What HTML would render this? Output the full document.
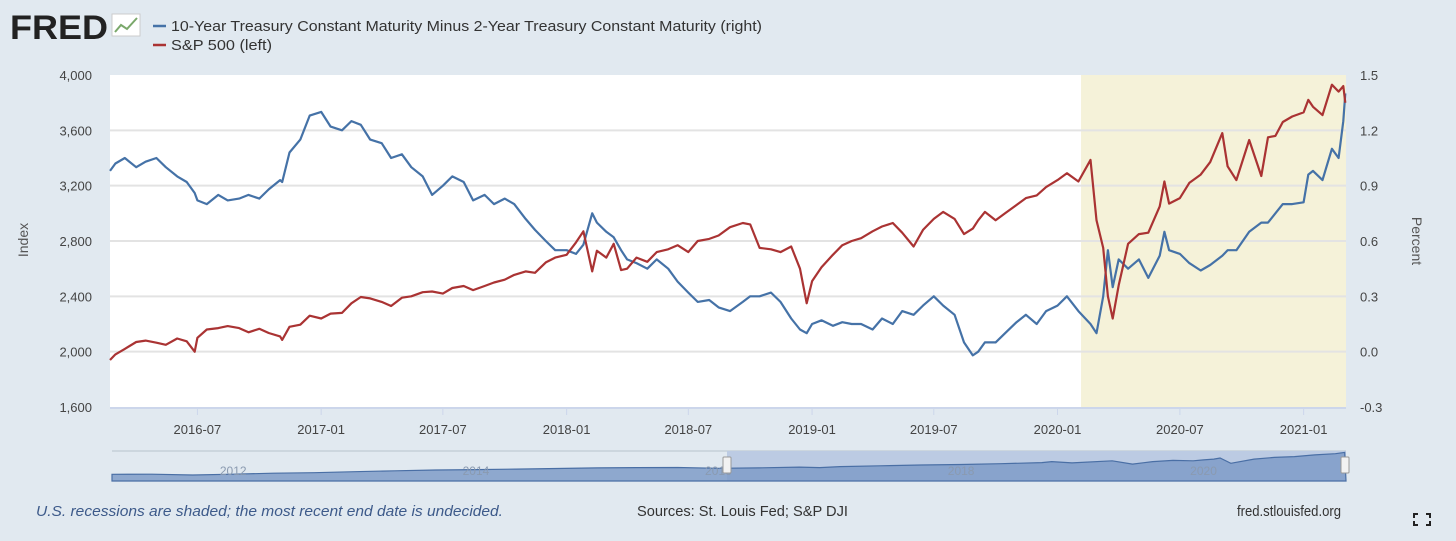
<!DOCTYPE html>
<html><head><meta charset="utf-8"><style>
body{margin:0;background:#e1e9f0;font-family:"Liberation Sans",sans-serif;}
svg{display:block}
text{font-family:"Liberation Sans",sans-serif;}
</style></head><body>
<svg id="c" width="1456" height="541">
<rect width="1456" height="541" fill="#e1e9f0"/>
<g>
<text x="10" y="39" font-size="34" font-weight="bold" fill="#222" textLength="98" lengthAdjust="spacingAndGlyphs">FRED</text>
<rect x="112" y="14" width="28" height="22" fill="#fff" stroke="#ccc"/>
<polyline points="115,32 121,25 127,29 137,18" fill="none" stroke="#7aa86b" stroke-width="2"/>
</g>
<g>
<line x1="153" y1="26" x2="166" y2="26" stroke="#4572a7" stroke-width="2.5"/>
<text x="171" y="31" font-size="14.5" fill="#333" textLength="591" lengthAdjust="spacingAndGlyphs">10-Year Treasury Constant Maturity Minus 2-Year Treasury Constant Maturity (right)</text>
<line x1="153" y1="45" x2="166" y2="45" stroke="#aa3333" stroke-width="2.5"/>
<text x="171" y="50" font-size="14.5" fill="#333" textLength="101" lengthAdjust="spacingAndGlyphs">S&amp;P 500 (left)</text>
</g>
<rect x="110" y="75" width="1236" height="332" fill="#fff"/>
<g id="rec"></g><g id="grid"></g><g id="axes"></g><g id="series"></g><g id="nav"></g>
<text x="28" y="240" font-size="14" fill="#555" transform="rotate(-90 28 240)" text-anchor="middle">Index</text>
<text x="1412" y="241" font-size="14" fill="#555" transform="rotate(90 1412 241)" text-anchor="middle">Percent</text>
<text x="36" y="516" font-size="15" fill="#3d5a8a" font-style="italic" textLength="467" lengthAdjust="spacingAndGlyphs">U.S. recessions are shaded; the most recent end date is undecided.</text>
<text x="637" y="516" font-size="15" fill="#333" textLength="211" lengthAdjust="spacingAndGlyphs">Sources: St. Louis Fed; S&amp;P DJI</text>
<text x="1237" y="516" font-size="15" fill="#333" textLength="104" lengthAdjust="spacingAndGlyphs">fred.stlouisfed.org</text>
<g stroke="#222" stroke-width="2" fill="none">
<polyline points="1414,518 1414,514 1418,514"/><polyline points="1426,514 1430,514 1430,518"/>
<polyline points="1414,521 1414,525 1418,525"/><polyline points="1426,525 1430,525 1430,521"/>
</g>
</svg>
<script>
const dates=["2016-02-22","2016-03-01","2016-03-15","2016-04-01","2016-04-15","2016-05-01","2016-05-15","2016-06-01","2016-06-15","2016-06-27","2016-07-01","2016-07-15","2016-08-01","2016-08-15","2016-09-01","2016-09-15","2016-10-01","2016-10-15","2016-11-01","2016-11-04","2016-11-15","2016-12-01","2016-12-15","2017-01-01","2017-01-15","2017-02-01","2017-02-15","2017-03-01","2017-03-15","2017-04-01","2017-04-15","2017-05-01","2017-05-15","2017-06-01","2017-06-15","2017-07-01","2017-07-15","2017-08-01","2017-08-15","2017-09-01","2017-09-15","2017-10-01","2017-10-15","2017-11-01","2017-11-15","2017-12-01","2017-12-15","2018-01-01","2018-01-15","2018-01-26","2018-02-08","2018-02-15","2018-03-01","2018-03-12","2018-03-23","2018-04-01","2018-04-15","2018-05-01","2018-05-15","2018-06-01","2018-06-15","2018-07-01","2018-07-15","2018-08-01","2018-08-15","2018-09-01","2018-09-20","2018-10-01","2018-10-15","2018-11-01","2018-11-15","2018-12-01","2018-12-14","2018-12-24","2019-01-01","2019-01-15","2019-02-01","2019-02-15","2019-03-01","2019-03-15","2019-04-01","2019-04-15","2019-05-01","2019-05-15","2019-06-01","2019-06-15","2019-07-01","2019-07-15","2019-08-01","2019-08-15","2019-08-28","2019-09-05","2019-09-15","2019-10-01","2019-10-15","2019-11-01","2019-11-15","2019-12-01","2019-12-15","2020-01-01","2020-01-15","2020-02-01","2020-02-19","2020-02-28","2020-03-09","2020-03-16","2020-03-23","2020-04-01","2020-04-15","2020-05-01","2020-05-15","2020-06-01","2020-06-08","2020-06-15","2020-07-01","2020-07-15","2020-08-01","2020-08-15","2020-09-02","2020-09-10","2020-09-23","2020-10-12","2020-10-30","2020-11-09","2020-11-20","2020-12-01","2020-12-15","2021-01-01","2021-01-08","2021-01-15","2021-01-29","2021-02-12","2021-02-22","2021-03-01","2021-03-04"];
const sp500=[1940,1980,2020,2070,2080,2065,2050,2095,2075,2000,2100,2160,2170,2185,2170,2140,2165,2135,2110,2085,2180,2195,2260,2240,2275,2280,2350,2395,2385,2360,2330,2390,2400,2430,2435,2420,2460,2475,2445,2475,2500,2520,2555,2580,2570,2645,2680,2700,2790,2870,2580,2730,2680,2780,2590,2600,2680,2650,2720,2740,2770,2720,2800,2815,2840,2900,2930,2920,2750,2740,2720,2760,2600,2350,2510,2610,2700,2770,2800,2820,2870,2905,2930,2860,2760,2880,2960,3010,2960,2850,2890,2950,3010,2950,3000,3060,3110,3130,3190,3240,3290,3230,3386,2950,2750,2400,2240,2480,2780,2850,2860,3050,3230,3070,3110,3220,3280,3370,3580,3340,3240,3530,3270,3550,3560,3660,3700,3730,3820,3770,3710,3930,3880,3920,3800];
const spread=[0.98,1.02,1.05,1.00,1.03,1.05,1.00,0.95,0.92,0.86,0.82,0.80,0.85,0.82,0.83,0.85,0.83,0.88,0.93,0.92,1.08,1.15,1.28,1.30,1.22,1.20,1.25,1.23,1.15,1.13,1.05,1.07,1.00,0.95,0.85,0.90,0.95,0.92,0.82,0.85,0.80,0.83,0.80,0.72,0.66,0.60,0.55,0.55,0.53,0.58,0.75,0.70,0.65,0.62,0.55,0.50,0.48,0.45,0.50,0.45,0.38,0.32,0.27,0.28,0.24,0.22,0.27,0.30,0.30,0.32,0.27,0.18,0.12,0.10,0.15,0.17,0.14,0.16,0.15,0.15,0.12,0.18,0.15,0.22,0.20,0.25,0.30,0.25,0.20,0.05,-0.02,0.00,0.05,0.05,0.10,0.16,0.20,0.15,0.22,0.25,0.30,0.22,0.15,0.10,0.30,0.55,0.35,0.50,0.45,0.50,0.40,0.52,0.65,0.55,0.53,0.48,0.44,0.47,0.52,0.55,0.55,0.65,0.70,0.70,0.75,0.80,0.80,0.81,0.96,0.98,0.93,1.10,1.05,1.25,1.40];
const leftTicks=[1600,2000,2400,2800,3200,3600,4000];
const rightTicks=["-0.3","0.0","0.3","0.6","0.9","1.2","1.5"];
const xTicks=["2016-07","2017-01","2017-07","2018-01","2018-07","2019-01","2019-07","2020-01","2020-07","2021-01"];
const recession=["2020-02-05","2021-03-05"];
const navYears=["2012","2014","2016","2018","2020"];
const navValues=[1280,1300,1200,1300,1420,1480,1600,1700,1800,1850,1900,1980,2050,2080,2100,2000,2050,2150,2080,2200,2300,2400,2450,2550,2680,2800,2650,2900,2500,2800,2950,2900,3000,3100,3230,2600,3100,3300,3400,3600,3750,3900];
const navDates=["2011-01","2011-05","2011-09","2012-01","2012-05","2012-09","2013-01","2013-05","2013-09","2014-01","2014-05","2014-09","2015-01","2015-05","2015-09","2016-01","2016-05","2016-09","2016-11","2017-01","2017-05","2017-09","2018-01","2018-05","2018-09","2018-10","2018-12","2019-04","2019-06","2019-08","2019-10","2019-12","2020-01","2020-02","2020-02-20","2020-03-23","2020-06","2020-08","2020-10","2020-12","2021-02","2021-03"];

const NS="http://www.w3.org/2000/svg";
function mk(tag,attrs,parent){const e=document.createElementNS(NS,tag);for(const k in attrs)e.setAttribute(k,attrs[k]);parent.appendChild(e);return e;}
function t(d){const p=d.split("-").map(Number);return Date.UTC(p[0],p[1]-1,p[2]||1);}
const X0=110,X1=1346,Y0=75,Y1=407;
const tStart=t("2016-02-22"),tEnd=t("2021-03-05");
const xS=d=>X0+(t(d)-tStart)/(tEnd-tStart)*(X1-X0);
const yL=v=>Y1-(v-1600)/2400*(Y1-Y0);
const yR=v=>Y1-(v+0.3)/1.8*(Y1-Y0);

const rec=document.getElementById("rec");
const rr=mk("rect",{x:xS(recession[0]),y:Y0,width:xS(recession[1])-xS(recession[0]),height:Y1-Y0,fill:"#f5f2d9"},rec);



const grid=document.getElementById("grid"),axes=document.getElementById("axes");
leftTicks.forEach((v,i)=>{
  const y=yL(v);
  if(i>0&&i<leftTicks.length-1){const g=mk("line",{x1:X0,x2:X1,y1:y,y2:y,stroke:"#e3e3e3","stroke-width":2},grid);
  
  }
  const tl=mk("text",{x:92,y:y+5,"font-size":13,fill:"#444","text-anchor":"end"},axes);tl.textContent=v.toLocaleString("en-US");
  
  
  const tr=mk("text",{x:1360,y:y+5,"font-size":13,fill:"#444"},axes);tr.textContent=rightTicks[i];
  
  
});
mk("line",{x1:X0,x2:X1,y1:Y1+1,y2:Y1+1,stroke:"#ccd6eb","stroke-width":2},axes);
xTicks.forEach(d=>{
  const x=xS(d+"-01");
  mk("line",{x1:x,x2:x,y1:Y1,y2:Y1+8,stroke:"#ccd6eb"},axes);
  const tx=mk("text",{x:x,y:434,"font-size":13,fill:"#444","text-anchor":"middle"},axes);tx.textContent=d;
  
  
});

const series=document.getElementById("series");
const pb=mk("polyline",{points:dates.map((d,i)=>xS(d).toFixed(1)+","+yR(spread[i]).toFixed(1)).join(" "),fill:"none",stroke:"#4572a7","stroke-width":2.2,"stroke-linejoin":"round"},series);


const pr=mk("polyline",{points:dates.map((d,i)=>xS(d).toFixed(1)+","+yL(sp500[i]).toFixed(1)).join(" "),fill:"none",stroke:"#aa3333","stroke-width":2.2,"stroke-linejoin":"round"},series);



// navigator
const nav=document.getElementById("nav");
const NX0=112,NX1=1346,NY0=451,NY1=481;
const nt0=t("2011-01"),nt1=t("2021-03-05");
const nx=d=>NX0+(t(d)-nt0)/(nt1-nt0)*(NX1-NX0);
const ny=v=>NY1-6-(v-1200)/2750*(NY1-NY0-7);
mk("line",{x1:NX0,x2:NX1,y1:NY0,y2:NY0,stroke:"#b8c2cc"},nav);
const sel=mk("rect",{x:727,y:NY0,width:NX1-727,height:NY1-NY0,fill:"#bccbe3"},nav);


let pts=navDates.map((d,i)=>nx(d).toFixed(1)+","+ny(navValues[i]).toFixed(1));
const area=mk("polygon",{points:NX0+","+NY1+" "+pts.join(" ")+" "+NX1+","+NY1,fill:"#7f9cc8","fill-opacity":0.85,stroke:"#4a6fa5","stroke-width":1.2},nav);


navYears.forEach(y=>{
  const tx=mk("text",{x:nx(y+"-01"),y:475,"font-size":12,fill:"#8a9ab0","text-anchor":"middle"},nav);tx.textContent=y;
  
  
});
[727,1345].forEach((x,i)=>{
  const h=mk("rect",{x:x-4,y:457,width:8,height:16,fill:"#f2f2f2",stroke:"#999",rx:1},nav);
  
  
});
</script>
</body></html>
